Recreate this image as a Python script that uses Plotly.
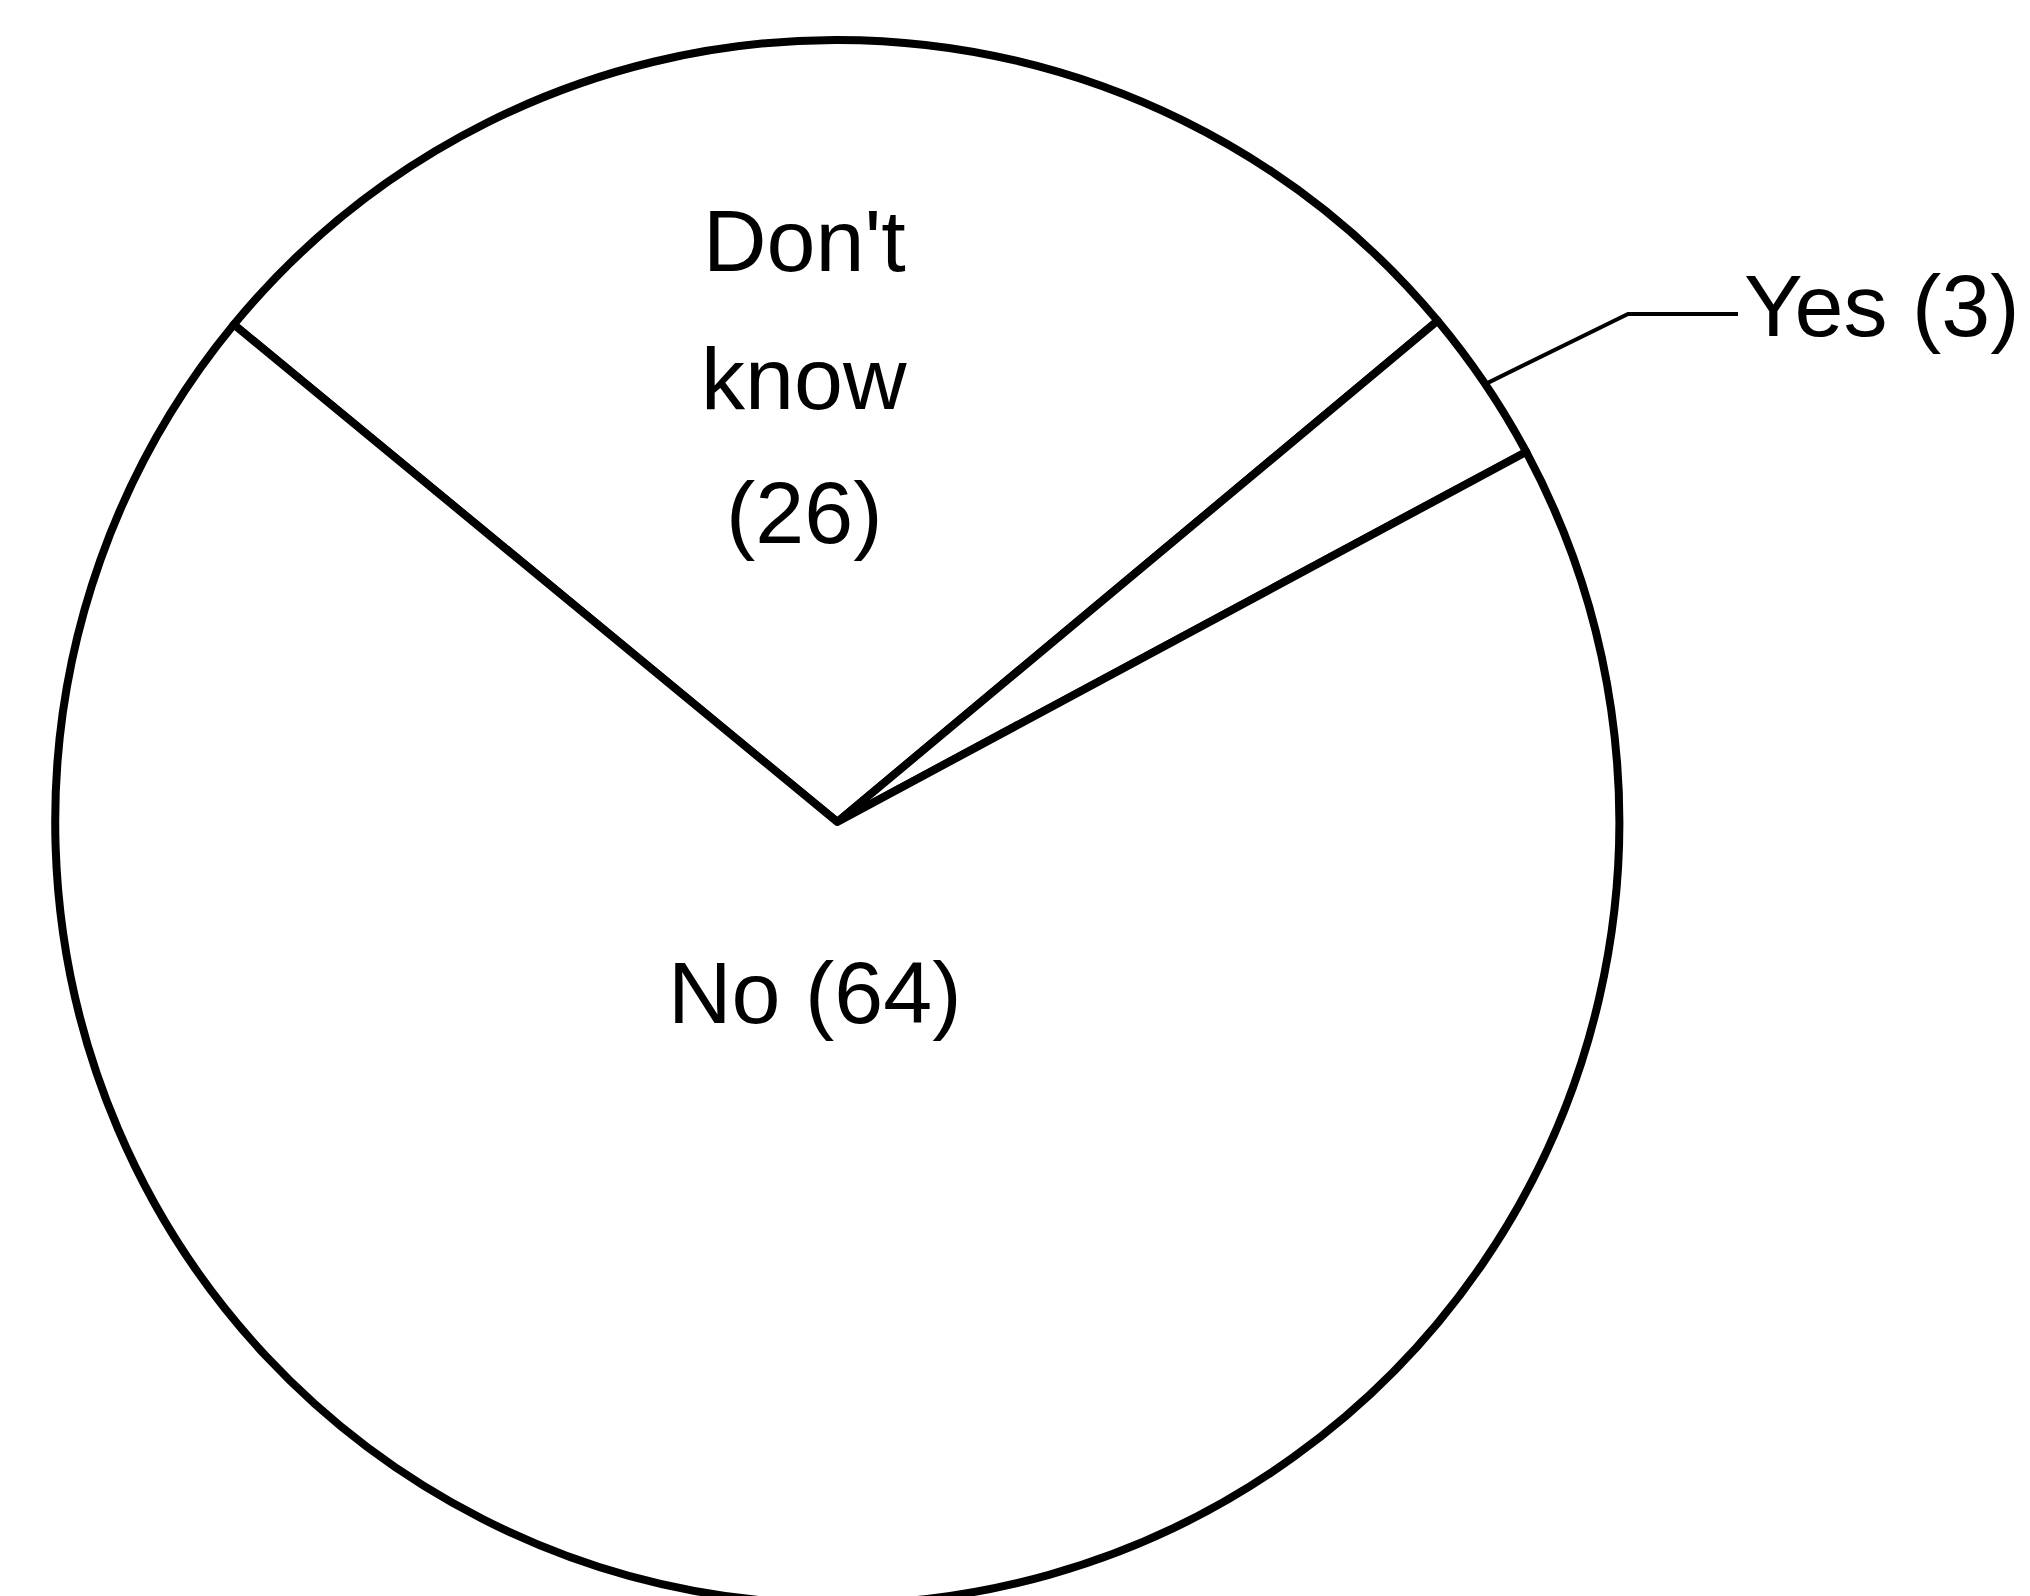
import math
import plotly.graph_objects as go

# Data
categories = ["Don't know", "Yes", "No"]
values = [26, 3, 64]
dk_lines = ["Don't", "know", "(26)"]
yes_text = "Yes (3)"
no_text = "No (64)"

W, H = 2030, 1596
ROT = -50.5
DOM_X = [0.016, 0.801]
DOM_Y = [0.0, 0.98]
FONT = "Liberation Sans, Arial, sans-serif"
FS = 88

fig = go.Figure(go.Pie(
    labels=categories,
    values=values,
    sort=False,
    direction="clockwise",
    rotation=ROT,
    textinfo="none",
    hoverinfo="label+value",
    marker=dict(colors=["white"] * 3, line=dict(color="black", width=8)),
    domain=dict(x=DOM_X, y=DOM_Y),
    showlegend=False,
))

# pie geometry (pixels) derived from domain
cx = (DOM_X[0] + DOM_X[1]) / 2 * W
cy = (1 - (DOM_Y[0] + DOM_Y[1]) / 2) * H
r = min((DOM_X[1] - DOM_X[0]) * W, (DOM_Y[1] - DOM_Y[0]) * H) / 2

total = sum(values)
yes_mid = ROT + (values[0] + values[1] / 2) / total * 360
px = cx + r * math.sin(math.radians(yes_mid))
py = cy - r * math.cos(math.radians(yes_mid))

def to_paper(x, y):
    return x / W, 1 - y / H

bend = (1620, 306)
end = (1730, 306)
p0 = to_paper(px, py)
p1 = to_paper(*bend)
p2 = to_paper(*end)
fig.add_shape(type="path", xref="paper", yref="paper",
              path=f"M {p0[0]},{p0[1]} L {p1[0]},{p1[1]} L {p2[0]},{p2[1]}",
              line=dict(color="black", width=4))

font = dict(family=FONT, size=FS, color="black")
for txt, yy in zip(dk_lines, [233, 371, 504]):
    fig.add_annotation(x=796 / W, y=1 - yy / H, xref="paper", yref="paper",
                       text=txt, showarrow=False, xanchor="center", yanchor="middle", font=font)
fig.add_annotation(x=end[0] / W + 0.002, y=1 - 298 / H, xref="paper", yref="paper",
                   text=yes_text, showarrow=False, xanchor="left", yanchor="middle", font=font)
fig.add_annotation(x=806 / W, y=1 - 985 / H, xref="paper", yref="paper",
                   text=no_text, showarrow=False, xanchor="center", yanchor="middle", font=font)

fig.update_layout(width=W, height=H, margin=dict(l=0, r=0, t=0, b=0),
                  paper_bgcolor="white", plot_bgcolor="white")
fig.write_html("out.html")
